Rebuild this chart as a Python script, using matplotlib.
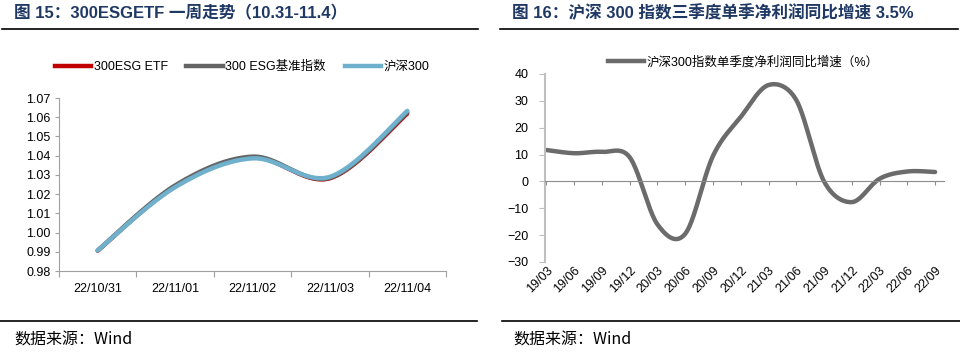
import matplotlib.pyplot as plt
import numpy as np
from matplotlib.lines import Line2D

plt.rcParams['font.family'] = ['Liberation Sans', 'Noto Sans CJK SC']

# left chart: one week trend
dates = ['22/10/31', '22/11/01', '22/11/02', '22/11/03', '22/11/04']
etf = [0.9905, 1.0240, 1.0390, 1.0282, 1.0618]
bench = [0.9907, 1.0245, 1.0395, 1.0285, 1.0625]
hs300 = [0.9907, 1.0236, 1.0386, 1.0290, 1.0633]
series_names = ['300ESG ETF', '300 ESG基准指数', '沪深300']

# right chart: quarterly net profit growth
quarters = ['19/03', '19/06', '19/09', '19/12', '20/03', '20/06', '20/09', '20/12',
            '21/03', '21/06', '21/09', '21/12', '22/03', '22/06', '22/09']
growth = [11.7, 10.5, 11.0, 9.0, -16.0, -19.5, 9.5, 24.0, 35.9, 30.3, 0.0, -7.7, 1.0, 3.7, 3.5]


def smooth(y, sx, sy, n=40):
    # Excel-style smoothed line: bezier with 1/6 tension, handles capped at half a segment
    q = np.column_stack([np.arange(len(y), dtype=float) * sx, np.asarray(y, float) * sy])
    m = len(q)
    t = np.linspace(0, 1, n)[:, None]
    segs = []
    for i in range(m - 1):
        p0, p1, p2, p3 = q[max(i - 1, 0)], q[i], q[i + 1], q[min(i + 2, m - 1)]
        d12 = np.linalg.norm(p2 - p1)
        d02 = np.linalg.norm(p2 - p0)
        d13 = np.linalg.norm(p3 - p1)
        f1 = min(1 / 6, d12 / (2 * d02)) if d02 > 0 else 1 / 6
        f2 = min(1 / 6, d12 / (2 * d13)) if d13 > 0 else 1 / 6
        c1 = p1 + (p2 - p0) * f1
        c2 = p2 - (p3 - p1) * f2
        segs.append((1 - t) ** 3 * p1 + 3 * (1 - t) ** 2 * t * c1 + 3 * (1 - t) * t ** 2 * c2 + t ** 3 * p2)
    c = np.vstack(segs)
    return c[:, 0] / sx, c[:, 1] / sy


fig = plt.figure(figsize=(9.6, 3.53), dpi=100)
title_color = '#1F3864'
fig.text(14 / 960, 1 - 13 / 353, '图 15：300ESGETF 一周走势（10.31-11.4）', fontsize=12,
         fontweight='bold', color=title_color, va='center')
fig.text(512 / 960, 1 - 13 / 353, '图 16：沪深 300 指数三季度单季净利润同比增速 3.5%', fontsize=12,
         fontweight='bold', color=title_color, va='center')
for x0, x1 in ((2, 478), (500, 958)):
    fig.add_artist(Line2D([x0 / 960, x1 / 960], [1 - 28.5 / 353] * 2, color='black', lw=1.2,
                          transform=fig.transFigure))
for x0, x1 in ((0, 477), (502, 960)):
    fig.add_artist(Line2D([x0 / 960, x1 / 960], [1 - 321 / 353] * 2, color='black', lw=1.2,
                          transform=fig.transFigure))
for x0 in (14, 513):
    fig.text(x0 / 960, 1 - 340 / 353, '数据来源：Wind', fontsize=11.5, va='center',
             family=['Noto Sans CJK SC', 'Liberation Sans'])

# ---- left chart
ax = fig.add_axes([59 / 960, 1 - 271 / 353, 387 / 960, 173 / 353])
for vals, color, lw in ((etf, '#C00000', 3.0), (bench, '#646464', 3.2), (hs300, '#6FB0CC', 3.2)):
    xs, ys = smooth(vals, 387 / 5, 173 / 0.09)
    ax.plot(xs, ys, color=color, lw=lw, solid_capstyle='round')
ax.set_xlim(-0.5, 4.5)
ax.set_ylim(0.98, 1.07)
ax.set_yticks(np.arange(0.98, 1.0701, 0.01))
ax.set_yticklabels([f'{v:.2f}' for v in np.arange(0.98, 1.0701, 0.01)])
ax.set_xticks(np.arange(-0.5, 4.6, 1))
ax.set_xticklabels([])
ax.set_xticks(range(len(dates)), dates, minor=True)
ax.tick_params(axis='x', which='minor', length=0, pad=9, labelsize=9)
ax.tick_params(axis='x', which='major', length=4, color='#A0A0A0')
ax.tick_params(axis='y', length=3, color='#A0A0A0', pad=3, labelsize=9)
for s in ('top', 'right'):
    ax.spines[s].set_visible(False)
for s in ('left', 'bottom'):
    ax.spines[s].set_color('#A0A0A0')
handles = [Line2D([], [], color=c, lw=3.2) for c in ('#C00000', '#646464', '#6FB0CC')]
fig.legend(handles, series_names, loc='center', bbox_to_anchor=(242 / 960, 1 - 67 / 353), ncol=3,
           frameon=False, fontsize=9, handlelength=2.9, handletextpad=0.2, columnspacing=1.5)

# ---- right chart
ax2 = fig.add_axes([545 / 960, 1 - 262 / 353, 399 / 960, 188 / 353])
xs, ys = smooth(growth, 27.86, 188 / 70)
ax2.plot(xs, ys, color='#6B6B6B', lw=3.2, solid_capstyle='round')
ax2.set_xlim(-0.05, 14.32)
ax2.set_ylim(-30, 40)
ax2.set_yticks(range(-30, 41, 10))
ax2.tick_params(axis='y', length=4, color='#BFBFBF', pad=8, labelsize=9)
ax2.spines['left'].set_color('#BFBFBF')
ax2.spines['left'].set_linewidth(1.5)
ax2.spines['bottom'].set_position(('data', 0))
ax2.spines['bottom'].set_color('#8C8C8C')
ax2.spines['top'].set_visible(False)
ax2.spines['right'].set_visible(False)
ax2.set_xticks(range(len(quarters)))
ax2.tick_params(axis='x', length=3, color='#8C8C8C', labelbottom=False)
sec = ax2.secondary_xaxis('bottom')
sec.set_xticks(range(len(quarters)), quarters)
sec.tick_params(length=0, pad=2, labelsize=9)
sec.spines['bottom'].set_visible(False)
for lab in sec.get_xticklabels():
    lab.set_rotation(45)
    lab.set_ha('right')
    lab.set_rotation_mode('anchor')
fig.legend([Line2D([], [], color='#6B6B6B', lw=3.2)], ['沪深300指数单季度净利润同比增速（%）'], loc='center',
           bbox_to_anchor=(743 / 960, 1 - 62 / 353), frameon=False, fontsize=9, handlelength=2.9,
           handletextpad=0.2)

fig.savefig('out.png', dpi=100)
